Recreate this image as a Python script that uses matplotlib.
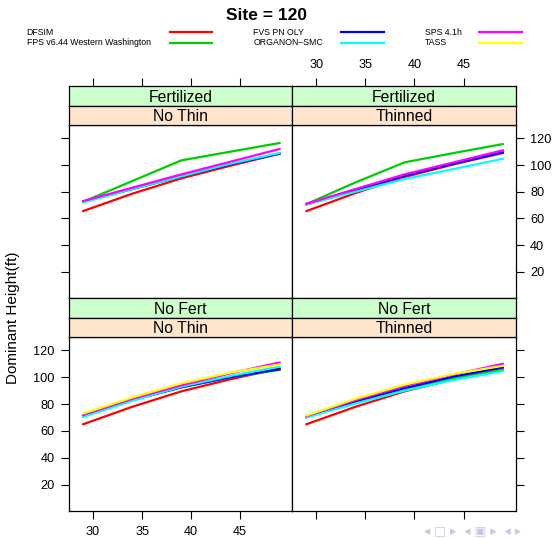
import matplotlib
matplotlib.use("Agg")
import matplotlib.pyplot as plt
import numpy as np
from matplotlib.lines import Line2D

plt.rcParams['font.family'] = ['Liberation Sans', 'DejaVu Sans']

# data
ages = [29, 34, 39, 44, 49]
models = ["DFSIM", "FPS v6.44 Western Washington", "FVS PN OLY",
          "ORGANON\u2013SMC", "SPS 4.1h", "TASS"]
colors = ["#FF0000", "#00CD00", "#0000FF", "#00FFFF", "#FF00FF", "#FFFF00"]
nan = float("nan")

# one row per model, same order as models
fert_nothin = [
    [65.5, 78.5, 90.0, 99.5, 108.5],
    [72.5, 88.0, 103.5, 110.0, 116.5],
    [72.5, 82.0, 91.5, 100.5, 108.5],
    [72.0, 82.0, 91.5, 101.0, 109.0],
    [73.0, 83.0, 93.0, 102.5, 112.0],
    [nan, nan, nan, nan, nan],
]
fert_thinned = [
    [65.5, 79.0, 91.0, 100.5, 109.0],
    [70.7, 87.0, 102.0, 109.0, 115.7],
    [70.5, 81.0, 92.0, 101.0, 109.5],
    [70.5, 80.0, 89.5, 97.0, 104.7],
    [71.0, 82.0, 93.0, 102.0, 111.0],
    [nan, nan, nan, nan, nan],
]
nofert_nothin = [
    [65.0, 78.0, 89.5, 98.5, 106.5],
    [71.5, 83.0, 92.5, 100.0, 105.5],
    [71.5, 83.0, 92.5, 100.0, 106.0],
    [70.5, 82.5, 93.0, 101.0, 108.0],
    [72.0, 84.0, 94.0, 103.0, 111.0],
    [73.0, 85.0, 95.5, 103.5, 109.5],
]
nofert_thinned = [
    [65.0, 78.0, 89.5, 98.5, 107.0],
    [70.5, 81.5, 91.0, 99.0, 105.5],
    [70.5, 82.0, 92.0, 100.5, 107.5],
    [70.0, 80.5, 90.0, 98.0, 104.5],
    [71.0, 83.0, 93.5, 102.0, 110.0],
    [71.5, 84.0, 94.5, 102.5, 108.5],
]
xticks = [30, 35, 40, 45]
yticks = [20, 40, 60, 80, 100, 120]

W, H = 558, 538
fig = plt.figure(figsize=(W / 100, H / 100), dpi=100)


def px_axes(l, t, r, b):
    return fig.add_axes([l / W, 1 - b / H, (r - l) / W, (b - t) / H])


XL, XM, XR = 69, 292.3, 515.5
rows = [(86, 106, 125, 298), (298, 318, 337, 511)]
panels = [
    (0, 0, "Fertilized", "No Thin", fert_nothin),
    (0, 1, "Fertilized", "Thinned", fert_thinned),
    (1, 0, "No Fert", "No Thin", nofert_nothin),
    (1, 1, "No Fert", "Thinned", nofert_thinned),
]
xlim = (27.55, 50.3)
ylim = (0.3, 130)
tick_kw = dict(direction="out", length=6, width=0.8, labelsize=9.2, pad=4.5,
               colors="black")

for r, c, s1, s2, data in panels:
    t1, t2, t3, b = rows[r]
    l, rr = (XL, XM) if c == 0 else (XM, XR)
    ax = px_axes(l, t3, rr, b)
    for vals, col in zip(data, colors):
        ax.plot(ages, vals, color=col, lw=1.6)
    ax.set_xlim(xlim)
    ax.set_ylim(ylim)
    ax.set_xticks(xticks)
    ax.set_yticks(yticks)
    for sp in ax.spines.values():
        sp.set_linewidth(0.9)
    ax.tick_params(**tick_kw)
    # lattice alternating axes
    ax.tick_params(axis="x", top=False, bottom=(r == 1), labelbottom=(r == 1 and c == 0))
    ax.tick_params(axis="y", left=(c == 0), labelleft=(c == 0 and r == 1),
                   right=(c == 1), labelright=(c == 1 and r == 0))

    for (tt, bb, label, fc) in [(t1, t2, s1, "#CCFFCC"), (t2, t3, s2, "#FFE5CC")]:
        sax = px_axes(l, tt, rr, bb)
        sax.set_facecolor(fc)
        sax.set_xlim(xlim)
        sax.set_yticks([])
        for sp in sax.spines.values():
            sp.set_linewidth(0.9)
        sax.text(0.5, 0.45, label, transform=sax.transAxes, ha="center",
                 va="center", fontsize=11.3)
        if tt == t1 and r == 0:
            sax.set_xticks(xticks)
            sax.tick_params(**tick_kw)
            sax.tick_params(axis="x", bottom=False, labelbottom=False, top=True,
                            labeltop=(c == 1))
        else:
            sax.set_xticks([])

fig.text(266 / W, 1 - 15 / H, "Site = 120", ha="center", va="center",
         fontsize=12.5, fontweight="bold")
fig.text(13 / W, 1 - 318 / H, "Dominant Height(ft)", ha="center", va="center",
         rotation=90, fontsize=11)

# legend, three columns
text_x = [26.7, 253.3, 425]
line_x = [(170, 212.3), (341, 384), (479.3, 522)]
row_y = [32.3, 42.7]
for i, (name, col) in enumerate(zip(models, colors)):
    k, j = divmod(i, 2)
    y = 1 - row_y[j] / H
    fig.text(text_x[k] / W, y, name, ha="left", va="center", fontsize=6.3)
    x0, x1 = line_x[k]
    fig.add_artist(Line2D([x0 / W, x1 / W], [y, y], color=col, lw=1.6,
                          transform=fig.transFigure))

# beamer navigation symbols
fig.text(424 / W, 1 - 531 / H, "\u25c2 \u25a1 \u25b8  \u25c2 \u25a3 \u25b8  \u25c2 \u25b8",
         ha="left", va="center", fontsize=9, color="#C8C8E6",
         family=["DejaVu Sans"])

fig.savefig("out.png", dpi=100)
